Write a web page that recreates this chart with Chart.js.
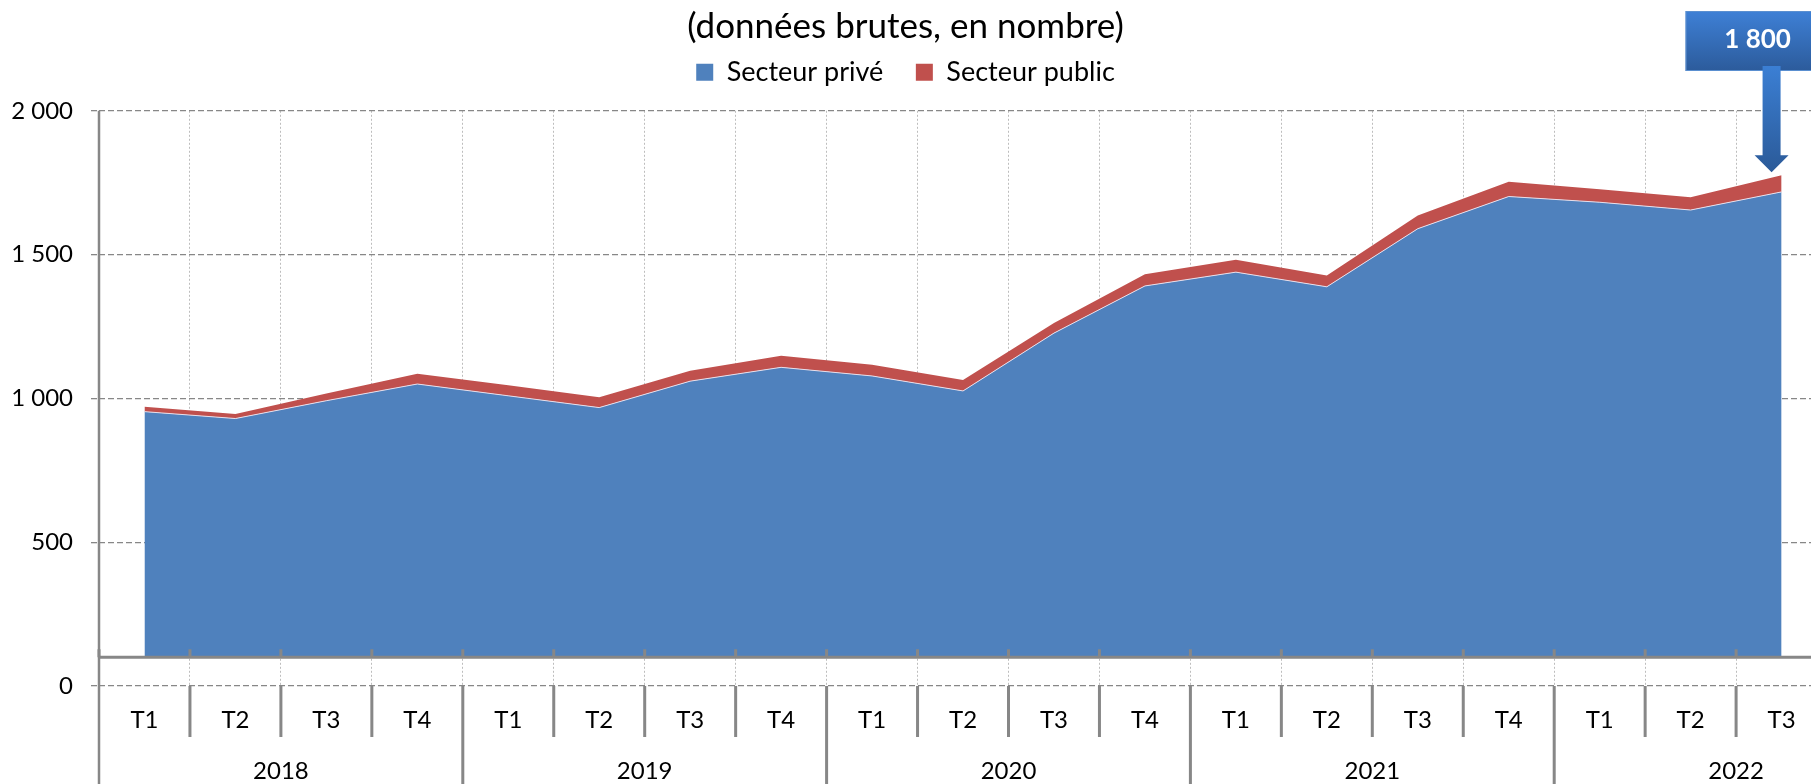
<!DOCTYPE html>
<html lang="fr">
<head>
<meta charset="utf-8">
<title>Secteur privé / Secteur public</title>
<script src="https://cdn.jsdelivr.net/npm/chart.js@4.4.1/dist/chart.umd.min.js"></script>
<style>
  html, body { margin: 0; padding: 0; background: #fff; overflow: hidden; }
  #wrap { width: 1811px; height: 784px; }
</style>
</head>
<body>
<div id="wrap"><canvas id="myChart" width="1811" height="784"></canvas></div>
<script>
// categories (2022 T4 is in the axis but has no value yet)
const quarters = [
  'T1', 'T2', 'T3', 'T4', 'T1', 'T2', 'T3', 'T4', 'T1', 'T2',
  'T3', 'T4', 'T1', 'T2', 'T3', 'T4', 'T1', 'T2', 'T3', 'T4',
];
const periodYears = [
  '2018', '2018', '2018', '2018', '2019', '2019', '2019', '2019', '2020', '2020',
  '2020', '2020', '2021', '2021', '2021', '2021', '2022', '2022', '2022', '2022',
];

// series values
const secteurPrive = [954, 930, 992, 1050, 1009, 968, 1060, 1108, 1078, 1026,
  1227, 1391, 1439, 1388, 1590, 1702, 1682, 1655, 1718, null];
const secteurPublic = [17, 16, 25, 36, 37, 36, 36, 40, 39, 38,
  35, 41, 43, 39, 46, 51, 45, 44, 58, null];

const yTickValues = [0, 500, 1000, 1500, 2000];
const calloutValue = 1800;

const FONT = 'Lato';
const PLOT_RIGHT = 1918; // the plot runs on past the right edge of the picture
const AXIS_FLOOR = 100;  // the category axis line sits at this value
const GREY = '#878787';

const fmt = (v) => String(v).replace(/\B(?=(\d{3})+(?!\d))/g, ' ');

const axisPlugin = {
  id: 'axisPlugin',
  afterLayout(chart) {
    const x = chart.scales.x;
    chart.chartArea.right = PLOT_RIGHT;
    chart.chartArea.width = PLOT_RIGHT - chart.chartArea.left;
    x.right = PLOT_RIGHT;
    x.width = PLOT_RIGHT - x.left;
    x.configure();
  },
  afterDatasetsDraw(chart) {
    const { ctx, chartArea } = chart;
    const x = chart.scales.x;
    const y = chart.scales.y;
    const n = quarters.length;
    const yFloor = y.getPixelForValue(AXIS_FLOOR);
    const y0 = y.getPixelForValue(0);
    const edge = (k) => x.getPixelForValue(k - 0.5);

    ctx.save();
    ctx.strokeStyle = GREY;

    // left axis, down to the bottom of the picture
    ctx.lineWidth = 2.5;
    ctx.beginPath();
    ctx.moveTo(chartArea.left, chartArea.top);
    ctx.lineTo(chartArea.left, chart.height);
    ctx.stroke();

    // category axis line with its small ticks
    ctx.lineWidth = 3;
    ctx.beginPath();
    ctx.moveTo(chartArea.left, yFloor);
    ctx.lineTo(chart.width, yFloor);
    for (let k = 0; k <= n; k++) {
      ctx.moveTo(edge(k), yFloor - 8);
      ctx.lineTo(edge(k), yFloor);
    }
    ctx.stroke();

    // separators under the 0 line
    ctx.beginPath();
    for (let k = 1; k <= n; k++) {
      const newYear = k === n || periodYears[k] !== periodYears[k - 1];
      ctx.moveTo(edge(k), y0);
      ctx.lineTo(edge(k), newYear ? chart.height : y0 + 51);
    }
    ctx.stroke();

    // quarter and year labels
    ctx.fillStyle = '#000';
    ctx.font = '24px ' + FONT;
    ctx.textAlign = 'center';
    ctx.textBaseline = 'alphabetic';
    quarters.forEach((q, i) => ctx.fillText(q, x.getPixelForValue(i), y0 + 42));
    let start = 0;
    for (let i = 1; i <= n; i++) {
      if (i === n || periodYears[i] !== periodYears[start]) {
        const cx = (x.getPixelForValue(start) + x.getPixelForValue(i - 1)) / 2;
        ctx.fillText(periodYears[start], cx, y0 + 93);
        start = i;
      }
    }

    // callout over the last quarter
    let last = secteurPrive.length - 1;
    while (secteurPrive[last] == null) last--;
    const ax = x.getPixelForValue(last) - 10;
    const tipY = y.getPixelForValue(secteurPrive[last] + secteurPublic[last]) - 3;
    const bx = ax - 86, by = 11, bw = 150, bh = 60;

    let g = ctx.createLinearGradient(0, by, 0, by + bh);
    g.addColorStop(0, '#3e80d6');
    g.addColorStop(1, '#2c5b9b');
    ctx.fillStyle = g;
    ctx.fillRect(bx, by, bw, bh);
    ctx.strokeStyle = '#5a8fd0';
    ctx.lineWidth = 1;
    ctx.strokeRect(bx + 0.5, by + 0.5, bw - 1, bh - 1);

    const headTop = tipY - 17;
    g = ctx.createLinearGradient(0, by + bh - 5, 0, tipY);
    g.addColorStop(0, '#3b7fd4');
    g.addColorStop(1, '#2b5a98');
    ctx.fillStyle = g;
    ctx.beginPath();
    ctx.moveTo(ax - 9, by + bh - 5);
    ctx.lineTo(ax + 9, by + bh - 5);
    ctx.lineTo(ax + 9, headTop);
    ctx.lineTo(ax + 17, headTop);
    ctx.lineTo(ax, tipY);
    ctx.lineTo(ax - 17, headTop);
    ctx.lineTo(ax - 9, headTop);
    ctx.closePath();
    ctx.fill();

    ctx.fillStyle = '#fff';
    ctx.font = 'bold 26px ' + FONT;
    ctx.textBaseline = 'middle';
    ctx.fillText(fmt(calloutValue), ax - 14, by + 29);
    ctx.restore();
  },
};

const ctx = document.querySelector('#myChart').getContext('2d');

const data = {
  labels: quarters,
  datasets: [
    {
      label: 'Secteur privé',
      data: secteurPrive,
      backgroundColor: '#4f81bd',
      borderColor: 'rgba(236,226,236,0.95)',
      borderWidth: 1,
      fill: { value: AXIS_FLOOR },
      pointRadius: 0,
      tension: 0,
    },
    {
      label: 'Secteur public',
      data: secteurPublic,
      backgroundColor: '#c0504d',
      borderColor: '#c0504d',
      borderWidth: 0,
      fill: '-1',
      pointRadius: 0,
      tension: 0,
    },
  ],
};

const config = {
  type: 'line',
  data: data,
  options: {
    responsive: false,
    animation: false,
    devicePixelRatio: 1,
    layout: { padding: 0 },
    scales: {
      x: {
        offset: true,
        grid: {
          offset: true,
          color: '#bdbdbd',
          lineWidth: 1,
          drawTicks: false,
        },
        border: { display: false, dash: [2, 2] },
        ticks: { display: false },
        afterFit: (scale) => { scale.height = 98; },
      },
      y: {
        stacked: true,
        min: 0,
        max: 2000,
        afterBuildTicks: (scale) => { scale.ticks = yTickValues.map((v) => ({ value: v })); },
        grid: {
          color: GREY,
          lineWidth: 1.3,
          tickLength: 8,
          tickColor: GREY,
          tickBorderDash: [6, 3],
        },
        border: { display: false, dash: [6, 3] },
        ticks: {
          padding: 18,
          color: '#000',
          font: { family: FONT, size: 24 },
          callback: (value) => fmt(value),
        },
        afterFit: (scale) => { scale.width = 99; },
      },
    },
    plugins: {
      title: {
        display: true,
        text: '(données brutes, en nombre)',
        color: '#000',
        font: { family: FONT, size: 35, weight: 'normal', lineHeight: 1.2 },
        padding: { top: 6, bottom: -21.7 },
      },
      legend: {
        weight: 1800,
        labels: {
          color: '#000',
          font: { family: FONT, size: 27 },
          boxWidth: 17,
          boxHeight: 17,
          padding: 32.5,
          generateLabels: (chart) => Chart.defaults.plugins.legend.labels
            .generateLabels(chart).map((l) => ({ ...l, lineWidth: 0 })),
        },
      },
      subtitle: {
        display: true,
        text: '',
        font: { size: 10, lineHeight: 1 },
        padding: { top: 5, bottom: 0 },
      },
      tooltip: { enabled: false },
    },
  },
  plugins: [axisPlugin],
};

const myChart = new Chart(ctx, config);
</script>
</body>
</html>
